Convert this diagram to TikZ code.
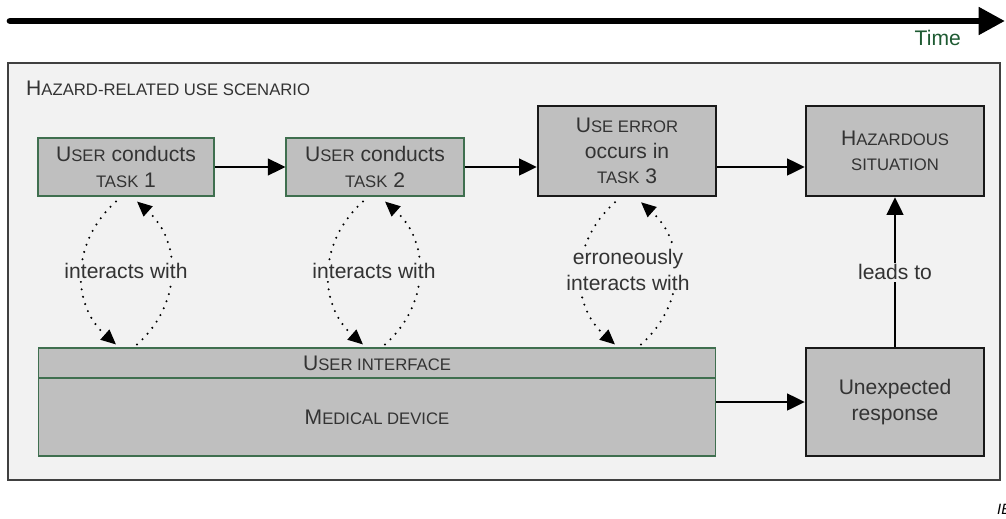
\documentclass[tikz,border=0pt]{standalone}
\usepackage{fontspec}
\setmainfont{Liberation Sans}
\usetikzlibrary{arrows.meta,calc}
\definecolor{panel}{HTML}{F2F2F2}
\definecolor{boxgray}{HTML}{BFBFBF}
\definecolor{boxgreen}{HTML}{3F6F4F}
\definecolor{timegreen}{HTML}{1E5A32}
\definecolor{txt}{HTML}{333333}
\newcommand{\smcap}[1]{{\fontsize{9.5}{12}\selectfont\MakeUppercase{#1}}}

\begin{document}
\begin{tikzpicture}[x=0.02cm,y=-0.02cm,
    font=\fontsize{12}{14.5}\selectfont, text=txt,
    task/.style={draw=boxgreen,line width=0.6pt,fill=boxgray,align=center,inner sep=0pt},
    event/.style={draw=black!90,line width=1.4pt,fill=boxgray,align=center,inner sep=0pt},
    flow/.style={line width=1.1pt,-{Triangle[length=10pt,width=9.5pt]}},
    interact/.style={line width=1.3pt,dash pattern=on 0pt off 4.3pt,line cap=round,-{Triangle[length=8.5pt,width=7.5pt]}},
    lbl/.style={fill=panel,inner sep=1pt,align=center}]
    \useasboundingbox (0,0) rectangle (1006,518);
    % time axis ============================================
    \coordinate (tstart) at (10,21);
    \coordinate (tend)   at (1005,21);
    \draw[line width=3.8pt,line cap=round,-{Triangle[length=15pt,width=15pt]}] (tstart) -- (tend);
    \node[timegreen,anchor=base east] (time) at (967,45) {Time};
    % scenario panel =======================================
    \node[draw=black!75,line width=0.9pt,fill=panel,minimum width=19.84cm,minimum height=8.34cm] (scen) at (504,271.5) {};
    \node[anchor=base west] (title) at (20,95) {H\smcap{azard-related use scenario}};
    % tasks ================================================
    \node[task,minimum width=3.52cm,minimum height=1.16cm] (t1) at (126,167) {U\smcap{ser} conducts\\\smcap{task} 1};
    \node[task,minimum width=3.56cm,minimum height=1.16cm] (t2) at (375,167) {U\smcap{ser} conducts\\\smcap{task} 2};
    \node[event,minimum width=3.56cm,minimum height=1.8cm]  (t3) at (627,151) {U\smcap{se error}\\occurs in\\\smcap{task} 3};
    \node[event,minimum width=3.56cm,minimum height=1.8cm]  (hz) at (895,151) {H\smcap{azardous}\\\smcap{situation}};
    % device ===============================================
    \node[task,minimum width=13.56cm,minimum height=0.6cm]  (ui) at (377,363) {U\smcap{ser interface}};
    \node[task,minimum width=13.56cm,minimum height=1.56cm] (md) at (377,417) {M\smcap{edical device}};
    \node[event,minimum width=3.56cm,minimum height=2.16cm] (ur) at (895,402) {Unexpected\\response};
    % sequence =============================================
    \draw[flow] (t1.east) -- (t2.west);
    \draw[flow] (t2.east) -- (t2.east -| t3.west);
    \draw[flow] (t3.east |- t2.east) -- (t2.east -| hz.west);
    \draw[flow] (md.east |- ur.west) -- (ur.west);
    \draw[flow] (ur.north) -- (hz.south) node[midway,lbl] (lead) {leads to};
    % interactions =========================================
    \draw[interact] ($(t1.south)+(-10,5)$) .. controls +(-45,40) and +(-45,-40) .. ($(t1.south |- ui.north)+(-10,-3)$);
    \draw[interact] ($(t1.south |- ui.north)+(11,-3)$) .. controls +(45,-40) and +(45,40) .. ($(t1.south)+(11,5)$);
    \draw[interact] ($(t2.south)+(-12,5)$) .. controls +(-45,40) and +(-45,-40) .. ($(t2.south |- ui.north)+(-12,-3)$);
    \draw[interact] ($(t2.south |- ui.north)+(10,-3)$) .. controls +(45,-40) and +(45,40) .. ($(t2.south)+(10,5)$);
    \draw[interact] ($(t3.south)+(-12,5)$) .. controls +(-45,40) and +(-45,-40) .. ($(t3.south |- ui.north)+(-12,-3)$);
    \draw[interact] ($(t3.south |- ui.north)+(14,-3)$) .. controls +(45,-40) and +(45,40) .. ($(t3.south)+(14,5)$);
    \node[lbl] (i1) at (126,271) {interacts with};
    \node[lbl] (i2) at (374,271) {interacts with};
    \node[lbl] (i3) at (628,270) {erroneously\\interacts with};
    % source tag ===========================================
    \node[anchor=base west,text=black,font=\fontsize{8.5}{9}\selectfont\itshape] (src) at (991,514) {IEC};
\end{tikzpicture}
\end{document}
